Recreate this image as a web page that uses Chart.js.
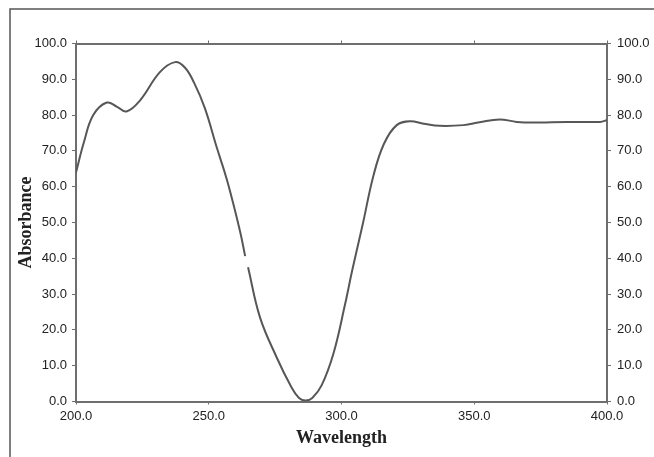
<!DOCTYPE html>
<html>
<head>
<meta charset="utf-8">
<script src="https://cdn.jsdelivr.net/npm/chart.js@4"></script>
<style>
  html, body { margin: 0; padding: 0; background: #fff; }
  #wrap { width: 654px; height: 457px; position: relative; }
</style>
</head>
<body>
<div id="wrap"><canvas id="myChart" width="654" height="457"></canvas></div>
<script>
// wavelength (nm) and absorbance; null = break in the trace
var wavelength = [200, 203, 206.5, 211.6, 215.5, 219, 224, 231.6, 237.3, 241, 244.5, 248.5, 253, 257, 261.8, 263.7, 264.2, 264.8, 269.3, 275.6, 281, 284, 286.5, 289, 292.5, 297, 301.3, 304, 308, 312, 316, 320.8, 325.8, 331, 337, 346, 352, 359.5, 366, 372, 385, 397.4, 400];
var absorbance = [64, 72.5, 80, 83.5, 82.3, 81, 84, 92, 94.8, 93.3, 89, 82, 71, 61.5, 47.5, 40.6, null, 37.5, 23.5, 12.3, 4.2, 1.0, 0.3, 1.0, 4.5, 13.5, 27, 36.5, 49.5, 63, 72, 77.2, 78.3, 77.6, 77.0, 77.2, 78, 78.8, 78.1, 77.9, 78.1, 78.1, 78.6];
var xTicks = [200, 250, 300, 350, 400];
var yTicks = [0, 10, 20, 30, 40, 50, 60, 70, 80, 90, 100];

var points = wavelength.map(function (w, i) { return { x: w, y: absorbance[i] }; });

var axisColor = '#6e6e6e';
var tickFont = { family: 'Liberation Sans, Arial', size: 13 };
var titleFont = { family: 'Liberation Serif, Times New Roman', size: 18, weight: 'bold' };

// frame around the figure (only top and left edges are inside the picture)
var framePlugin = {
  id: 'frame',
  beforeDraw: function (chart) {
    var c = chart.ctx;
    c.save();
    c.strokeStyle = '#555';
    c.lineWidth = 1.5;
    c.beginPath();
    c.moveTo(10, 457);
    c.lineTo(10, 9);
    c.lineTo(654, 9);
    c.stroke();
    c.restore();
  }
};

function fixSize(w, h) {
  return function (scale) {
    if (w !== null) scale.width = w;
    if (h !== null) scale.height = h;
  };
}

var ctx = document.getElementById('myChart').getContext('2d');
var myChart = new Chart(ctx, {
  type: 'line',
  data: {
    datasets: [{
      data: points,
      borderColor: '#575757',
      borderWidth: 2,
      pointRadius: 0,
      tension: 0.4,
      spanGaps: false,
      fill: false
    }]
  },
  options: {
    responsive: false,
    animation: false,
    layout: { padding: 0 },
    plugins: { legend: { display: false }, tooltip: { enabled: false } },
    scales: {
      x: {
        type: 'linear',
        position: 'bottom',
        min: 200, max: 400,
        afterBuildTicks: function (s) { s.ticks = xTicks.map(function (v) { return { value: v }; }); },
        afterFit: fixSize(null, 55.5),
        border: { display: true, color: axisColor, width: 2 },
        grid: { drawOnChartArea: false, tickLength: 3, tickColor: axisColor },
        ticks: { color: '#222', font: tickFont, padding: 4, maxRotation: 0,
                 callback: function (v) { return v.toFixed(1); } },
        title: { display: true, text: 'Wavelength', color: '#222', font: titleFont,
                 padding: { top: 0, bottom: 8 } }
      },
      x2: {
        type: 'linear',
        position: 'top',
        min: 200, max: 400,
        afterBuildTicks: function (s) { s.ticks = xTicks.map(function (v) { return { value: v }; }); },
        afterFit: fixSize(null, 43.5),
        border: { display: true, color: axisColor, width: 2 },
        grid: { drawOnChartArea: false, tickLength: 3, tickColor: axisColor },
        ticks: { display: false }
      },
      y: {
        type: 'linear',
        position: 'left',
        min: 0, max: 100,
        afterBuildTicks: function (s) { s.ticks = yTicks.map(function (v) { return { value: v }; }); },
        afterFit: fixSize(76, null),
        border: { display: true, color: axisColor, width: 2 },
        grid: { drawOnChartArea: false, tickLength: 4, tickColor: axisColor },
        ticks: { color: '#222', font: tickFont, padding: 5,
                 callback: function (v) { return v.toFixed(1); } },
        title: { display: true, text: 'Absorbance', color: '#222', font: titleFont,
                 padding: { top: 16, bottom: 0 } }
      },
      y2: {
        type: 'linear',
        position: 'right',
        min: 0, max: 100,
        afterBuildTicks: function (s) { s.ticks = yTicks.map(function (v) { return { value: v }; }); },
        afterFit: fixSize(47, null),
        border: { display: true, color: axisColor, width: 2 },
        grid: { drawOnChartArea: false, tickLength: 4, tickColor: axisColor },
        ticks: { color: '#222', font: tickFont, padding: 6,
                 callback: function (v) { return v.toFixed(1); } }
      }
    }
  },
  plugins: [framePlugin]
});
</script>
</body>
</html>
